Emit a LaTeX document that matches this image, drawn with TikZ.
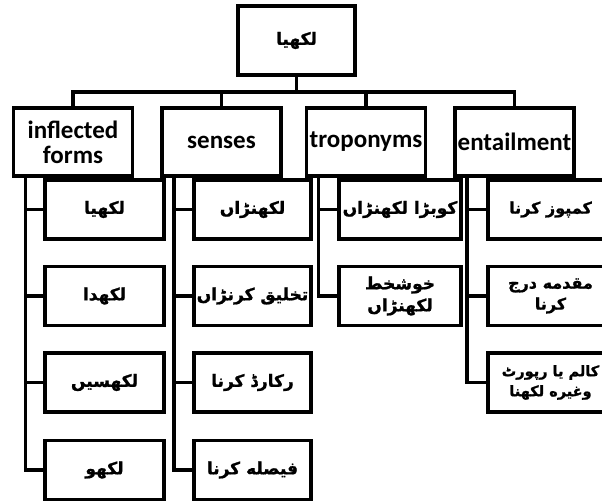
\documentclass[tikz,border=0pt]{standalone}
\usepackage{fontspec}
\setmainfont{Carlito}
\newfontfamily\urdufont[Script=Arabic, BoldFeatures={FakeBold=1.2}]{DejaVu Sans}
\TeXXeTstate=1
\newcommand{\ur}[1]{\beginR #1\endR}
\begin{document}
\begin{tikzpicture}[x=1pt,y=-1pt,
  box/.style={draw, line width=3.5pt, align=center, inner sep=1pt,
    font=\urdufont\bfseries\fontsize{17}{22}\selectfont},
  headbox/.style={box, minimum width=119pt, minimum height=68pt,
    font=\bfseries\fontsize{25}{25}\selectfont},
  kidbox/.style={box, minimum width=119pt, minimum height=59pt},
  entbox/.style={kidbox, minimum width=125pt,
    font=\urdufont\bfseries\fontsize{16}{21}\selectfont},
  link/.style={line width=3.5pt}]
\useasboundingbox (0,0) rectangle (602,501);
% root
\node[box, minimum width=117pt, minimum height=69pt] (root) at (296.5,40.5) {\ur{لکھیا}};
% headers
\node[headbox] (inf) at (73,142)    {inflected\\forms};
\node[headbox] (sen) at (221.5,142) {senses};
\node[headbox] (tro) at (366,142)   {troponyms};
\node[headbox] (ent) at (514.5,142) {entailment};
% inflected forms
\node[kidbox] (inf1) at (104.5,209.5) {\ur{لکھیا}};
\node[kidbox] (inf2) at (104.5,296)   {\ur{لکھدا}};
\node[kidbox] (inf3) at (104.5,382.5) {\ur{لکھسیں}};
\node[kidbox] (inf4) at (104.5,470)   {\ur{لکھو}};
% senses
\node[kidbox, minimum width=117pt] (sen1) at (252.5,209.5) {\ur{لکھنڑاں}};
\node[kidbox, minimum width=117pt] (sen2) at (252.5,296)   {\ur{تخلیق کرنڑاں}};
\node[kidbox, minimum width=117pt] (sen3) at (252.5,382.5) {\ur{رکارڈ کرنا}};
\node[kidbox, minimum width=117pt] (sen4) at (252.5,470)   {\ur{فیصله کرنا}};
% troponyms
\node[kidbox, minimum width=122pt] (tro1) at (400,209.5) {\ur{کوبڑا لکھنڑاں}};
\node[kidbox, minimum width=122pt] (tro2) at (400,296)   {\ur{خوشخط}\\\ur{لکھنڑاں}};
% entailment (box runs past the right edge)
\node[entbox] (ent1) at (550.5,209.5) {\ur{کمپوز کرنا}};
\node[entbox] (ent2) at (550.5,296)   {\ur{مقدمه درج}\\\ur{کرنا}};
\node[entbox, font=\urdufont\bfseries\fontsize{14.5}{20}\selectfont] (ent3) at (550.5,382.5) {\ur{کالم یا رپورٹ}\\\ur{وغیره لکھنا}};
% root to headers
\coordinate (bar) at (296.5,92);
\draw[link] (root.south) -- (bar);
\foreach \h in {inf,sen,tro,ent}
  \draw[link] (bar) -| (\h.north);
% headers to children
\foreach \h/\n in {inf/4,sen/4,tro/2,ent/3}
  \foreach \k in {1,...,\n}
    \draw[link] ([xshift=13.5pt]\h.south west) |- (\h\k.west);
\end{tikzpicture}
\end{document}
